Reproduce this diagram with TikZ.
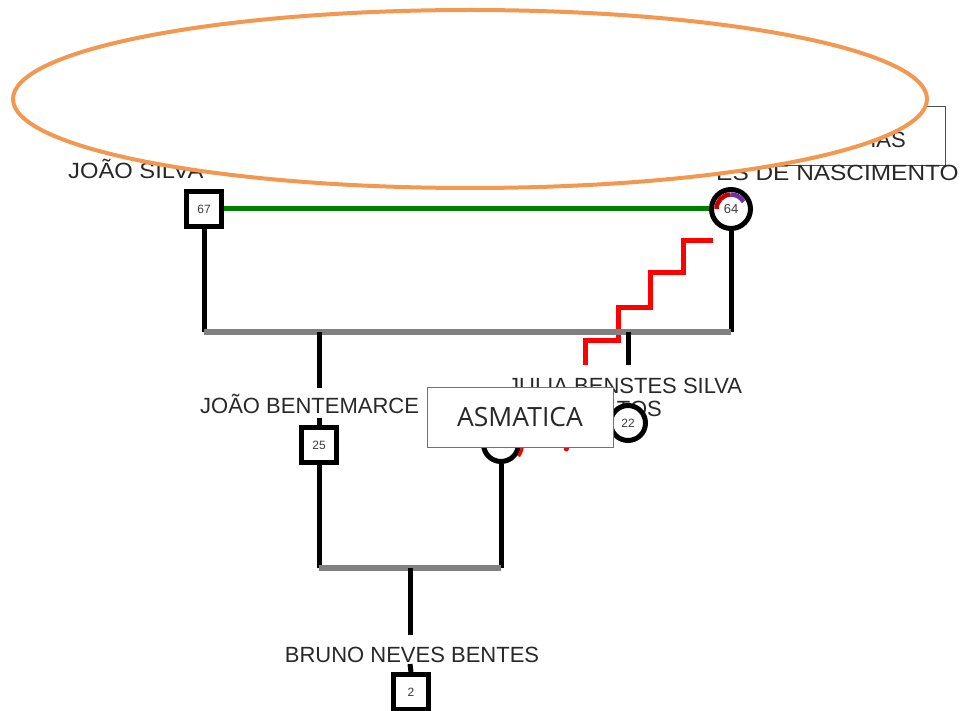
\documentclass[tikz,border=0pt]{standalone}
\usepackage{fontspec}
\setmainfont{Liberation Sans}
\newfontfamily\notefont{Open Sans}
\definecolor{ringorange}{RGB}{242,152,80}
\definecolor{unionbar}{RGB}{128,128,128}
\definecolor{marriage}{RGB}{0,128,0}
\definecolor{namegray}{RGB}{40,40,40}
\definecolor{numgray}{RGB}{60,60,60}
\definecolor{markred}{RGB}{200,0,0}
\definecolor{markpurple}{RGB}{112,48,160}
\definecolor{stair}{RGB}{255,0,0}
\begin{document}
\begin{tikzpicture}[x=1pt,y=-1pt,
  kin/.style={line width=5pt, black},
  unionline/.style={line width=6pt, unionbar},
  male/.style={draw, rectangle, line width=5pt, minimum size=35pt, inner sep=0pt,
    fill=white, font=\fontsize{12}{12}\selectfont, text=numgray},
  female/.style={draw, circle, line width=5pt, minimum size=#1, inner sep=0pt,
    fill=white, font=\fontsize{12}{12}\selectfont, text=numgray},
  female/.default=35pt,
  person/.style={font=\fontsize{22}{22}\selectfont, text=namegray, inner sep=0pt},
  notebox/.style={draw=black!55, line width=0.8pt, fill=white, minimum width=186pt,
    minimum height=60pt, font=\notefont\fontsize{26.5}{26.5}\selectfont, text=namegray}]
\useasboundingbox (0,0) rectangle (961,711);

% --- names of the first generation (partly hidden by the highlight ring)
\draw[black!70, line width=0.8pt] (700,106) -- (945,106) -- (945,165) -- (700,165);
\node[person, anchor=base west, xscale=1.08] (n67) at (68,179) {JOÃO SILVA};
\node[person, anchor=base east] (n64a) at (906,148) {IAS};
\node[person, anchor=base west, xscale=1.11] (n64b) at (716,181) {ES DE NASCIMENTO};

% --- highlight ring
\draw[ringorange, line width=4pt, fill=white] (470,99) ellipse [x radius=457pt, y radius=89pt];

% --- persons
\node[male] (p67) at (204,209) {67};
\node[female=39pt] (p64) at (731,209) {};
\node[male] (p25) at (319,445) {25};
\node[female] (p23) at (501,444) {23};
\node[male] (p2) at (411,692) {2};

% union and descent points
\coordinate (u1l) at (204,332);
\coordinate (u1r) at (731,332);
\coordinate (d25a) at (319,332);
\coordinate (d25b) at (319,388);
\coordinate (d25c) at (319,418);
\coordinate (d22a) at (628,332);
\coordinate (d22b) at (628,365);
\coordinate (u2l) at (319,568);
\coordinate (u2r) at (501,568);
\coordinate (d2a) at (410,568);
\coordinate (d2b) at (410,635);
\coordinate (d2c) at (410,664);

% --- marriage line
\draw[marriage, line width=5pt] (p67.east) -- (p64.west);

% --- parents down to the union bar
\draw[kin] (p67.south) -- (u1l);
\draw[kin] (p64.south) -- (u1r);

% --- red staircase link
\coordinate (st0) at (713,241);
\coordinate (st1) at (585,365);
\draw[stair, line width=5pt] (st0) -- (683,241) -- (683,273) -- (650,273) -- (650,308)
  -- (618,308) -- (618,340) -- (585,340) -- (st1);
\draw[stair, line width=5pt, line cap=round] (566,430) -- (566,449);
\draw[stair, line width=3pt] ([shift={(0:21.5pt)}]p23.center) arc[start angle=0, end angle=-35, radius=21.5pt];

\draw[unionline] (u1l) -- (u1r);

% --- children of the first couple
\draw[kin] (d25a) -- (d25b);
\draw[kin] (d25c) -- (p25.north);
\draw[kin] (d22a) -- (d22b);

% --- colour marks inside 64
\draw[markred, line width=4.5pt] ([shift={(180:14.5pt)}]p64.center) arc[start angle=180, end angle=92, radius=14.5pt];
\draw[markpurple, line width=4.5pt] ([shift={(92:14.5pt)}]p64.center) arc[start angle=92, end angle=30, radius=14.5pt];
\node[font=\fontsize{13}{13}\selectfont, text=numgray, inner sep=0pt] (t64) at (p64.center) {64};

% --- second generation names
\node[person, anchor=base west] (n25) at (200,413) {JOÃO BENTEMARCE};
\node[person, anchor=base west] (n22a) at (508,393) {JULIA BENSTES SILVA};
\node[person, anchor=base east] (n22b) at (662,416) {TOS};
\node[female] (p22) at (628,423) {22};

% --- note box
\node[notebox] (note) at (520,417) {ASMATICA};

% --- second couple and their child
\draw[kin] (p25.south) -- (u2l);
\draw[kin] (p23.south) -- (u2r);
\draw[unionline] (u2l) -- (u2r);
\draw[kin] (d2a) -- (d2b);
\draw[kin] (d2c) -- (p2.north);
\node[person, anchor=base] (n2) at (412,662) {BRUNO NEVES BENTES};
\end{tikzpicture}
\end{document}
